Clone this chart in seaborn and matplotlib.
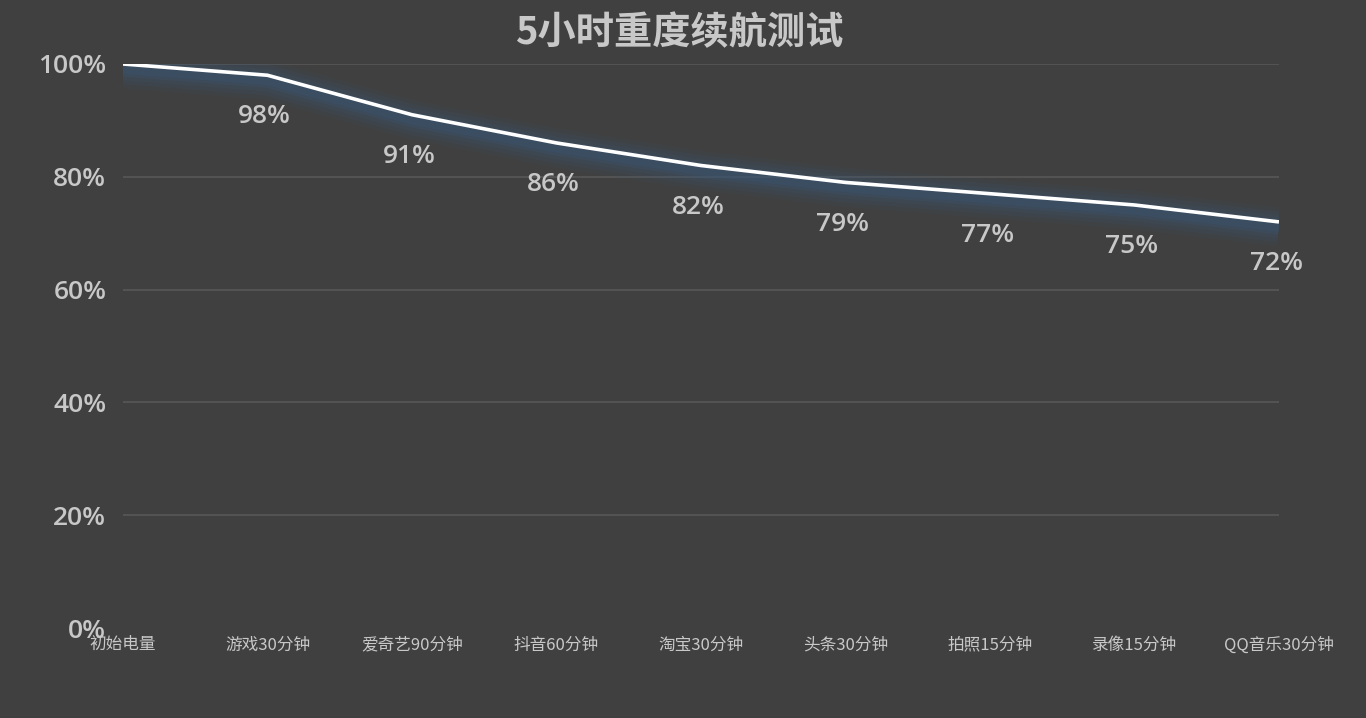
import numpy as np
import pandas as pd
import matplotlib
matplotlib.use('Agg')
import matplotlib.pyplot as plt
import matplotlib.transforms as mtransforms
import seaborn as sns

# ===================== 数据 =====================
stages = ['初始电量', '游戏30分钟', '爱奇艺90分钟', '抖音60分钟', '淘宝30分钟',
          '头条30分钟', '拍照15分钟', '录像15分钟', 'QQ音乐30分钟']
battery = [100, 98, 91, 86, 82, 79, 77, 75, 72]
y_ticks = [0, 20, 40, 60, 80, 100]

df = pd.DataFrame({'stage': stages, 'battery': battery})
df['idx'] = range(len(df))

# ===================== 样式 =====================
sns.set_theme(style='dark')
plt.rcParams['font.family'] = ['Noto Sans CJK SC', 'DejaVu Sans']
bg = '#404040'
txt = '#c8c8c8'
num_font = ['Open Sans', 'DejaVu Sans']

fig = plt.figure(figsize=(13.66, 7.18), dpi=100, facecolor=bg)
ax = fig.add_axes([0.090, 0.1253, 0.8463, 0.7856], facecolor=bg)

# 辉光效果（蓝色光晕，略向下偏移）
glow_off = mtransforms.offset_copy(ax.transData, fig=fig, x=0, y=-5, units='dots')
for lw, a in [(28, 0.10), (22, 0.14), (16, 0.18), (11, 0.25), (7, 0.3)]:
    sns.lineplot(data=df, x='idx', y='battery', ax=ax, color='#3a5673',
                 linewidth=lw, alpha=a, transform=glow_off,
                 solid_capstyle='butt', solid_joinstyle='round')

# 主折线
sns.lineplot(data=df, x='idx', y='battery', ax=ax, color='white',
             linewidth=2.6, solid_capstyle='butt')

# 数据标签
for i, v in zip(df['idx'], df['battery']):
    if i == 0:
        continue
    ax.annotate(f'{v}%', xy=(i, v), xytext=(-2, -30), textcoords='offset points',
                ha='center', va='center', fontsize=19, fontweight='semibold',
                family=num_font, color=txt)

ax.set_xlim(0, len(stages) - 1)
ax.set_ylim(0, 100)
ax.set_yticks(y_ticks)
ax.set_yticklabels([f'{t}%' for t in y_ticks], fontsize=19, fontweight='semibold',
                   family=num_font, color=txt)
ax.set_xticks(df['idx'])
ax.set_xticklabels(stages, fontsize=12, color=txt)
ax.tick_params(axis='y', length=0, pad=12)
ax.tick_params(axis='x', length=0, pad=6)
ax.set_xlabel('')
ax.set_ylabel('')

for t in y_ticks[1:]:
    ax.axhline(t, color='#575757', linewidth=1.2, zorder=0)
ax.grid(False)
for s in ax.spines.values():
    s.set_visible(False)

fig.text(0.497, 0.955, '5小时重度续航测试', ha='center', va='center',
         fontsize=27.5, fontweight='bold', color=txt)

fig.savefig('out.png', dpi=100, facecolor=bg)
